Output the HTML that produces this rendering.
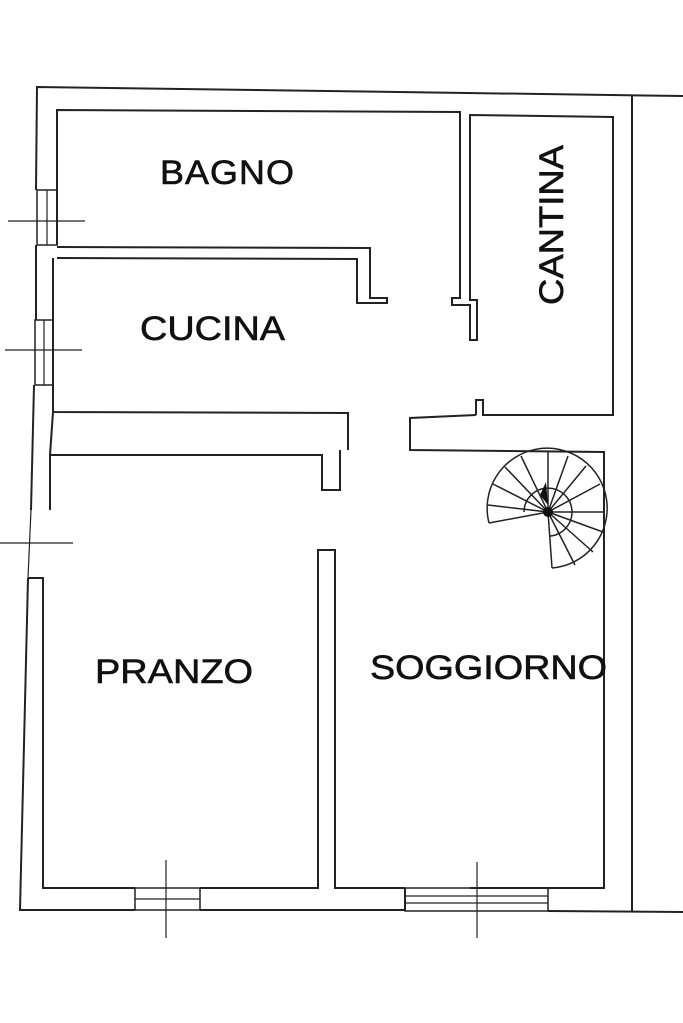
<!DOCTYPE html>
<html><head><meta charset="utf-8"><style>
html,body{margin:0;padding:0;background:#fff;}
svg{display:block}
text{font-family:"Liberation Sans",sans-serif;fill:#111;stroke:#111;stroke-width:0.6;}
</style></head><body>
<svg width="683" height="1023" viewBox="0 0 683 1023" xmlns="http://www.w3.org/2000/svg">
<g fill="none" stroke="#222" stroke-width="2">
<polyline points="683,96 37,87 36,190"/>
<polyline points="36,245 36,320"/>
<polyline points="34,385 31,510"/>
<polyline points="28,578 20,910 135,910"/>
<polyline points="200,910 405,910"/>
<polyline points="548,911 683,912"/>
<line x1="632" y1="96" x2="632" y2="911"/>
<rect x="37" y="190" width="20" height="55" stroke-width="1.5"/>
<line x1="47" y1="190" x2="47" y2="245" stroke-width="1.2"/>
<line x1="8" y1="221" x2="85" y2="221" stroke-width="1.2"/>
<rect x="35" y="320" width="18" height="65" stroke-width="1.5"/>
<line x1="44" y1="320" x2="44" y2="385" stroke-width="1.2"/>
<line x1="5" y1="350" x2="82" y2="350" stroke-width="1.2"/>
<line x1="31" y1="510" x2="28" y2="578" stroke-width="1.2"/>
<line x1="0" y1="543" x2="73" y2="543" stroke-width="1.2"/>
<polyline points="57,245 57,110 460,112 460,298 452,298 452,305 470,305 470,340 477,340 477,300 470,300 470,115 613,117 613,415 483,415 483,400 476,400 476,415"/>
<polyline points="57,247 370,248 370,298 387,298 387,303 357,303 357,259 57,258"/>
<polyline points="53,258 53,412 348,413 348,450"/>
<polyline points="53,412 50,455"/>
<polyline points="50,455 322,455 322,490 340,490 340,450"/>
<line x1="50" y1="455" x2="50" y2="510"/>
<polyline points="476,415 410,418 410,450 604,452 604,888 470,888"/>
<polyline points="28,578 43,578 43,888 135,888"/>
<polyline points="200,888 318,888 318,550 335,550 335,888 405,888"/>
<line x1="548" y1="888" x2="604" y2="888"/>
<rect x="135" y="888" width="65" height="22" stroke-width="1.5"/>
<line x1="135" y1="899" x2="200" y2="899" stroke-width="1.2"/>
<line x1="166" y1="860" x2="166" y2="938" stroke-width="1.2"/>
<rect x="405" y="888" width="143" height="23" stroke-width="1.5"/>
<line x1="405" y1="896" x2="548" y2="896" stroke-width="1.2"/>
<line x1="405" y1="903" x2="548" y2="903" stroke-width="1.2"/>
<line x1="477" y1="862" x2="477" y2="938" stroke-width="1.2"/>
<line x1="405" y1="888" x2="405" y2="911"/>
</g>
<g fill="none" stroke="#222" stroke-width="1.5">
<path d="M489,523 A60,60 0 1 1 552,568"/>
<path d="M524,512 A24,24 0 1 1 550,536"/>
<line x1="548" y1="512" x2="489" y2="523"/>
<line x1="548" y1="512" x2="488" y2="505"/>
<line x1="548" y1="512" x2="493" y2="484"/>
<line x1="548" y1="512" x2="505" y2="467"/>
<line x1="548" y1="512" x2="521" y2="456"/>
<line x1="548" y1="512" x2="548" y2="452"/>
<line x1="548" y1="512" x2="568" y2="456"/>
<line x1="548" y1="512" x2="586" y2="466"/>
<line x1="548" y1="512" x2="600" y2="484"/>
<line x1="548" y1="512" x2="604" y2="512"/>
<line x1="548" y1="512" x2="603" y2="532"/>
<line x1="548" y1="512" x2="593" y2="552"/>
<line x1="548" y1="512" x2="575" y2="565"/>
<line x1="548" y1="512" x2="552" y2="568"/>
</g>
<circle cx="548" cy="512" r="5" fill="#111"/>
<path d="M540,495 L546,482 L548,505 Z" fill="#111"/>
<text x="160" y="184" font-size="34" letter-spacing="1" textLength="135" lengthAdjust="spacingAndGlyphs">BAGNO</text>
<text x="140" y="340" font-size="34" textLength="145" lengthAdjust="spacingAndGlyphs">CUCINA</text>
<text transform="translate(563,305) rotate(-90)" font-size="34" textLength="160" lengthAdjust="spacingAndGlyphs">CANTINA</text>
<text x="95" y="683" font-size="34" textLength="158" lengthAdjust="spacingAndGlyphs">PRANZO</text>
<text x="370" y="679" font-size="34" textLength="237" lengthAdjust="spacingAndGlyphs">SOGGIORNO</text>
</svg>
</body></html>
